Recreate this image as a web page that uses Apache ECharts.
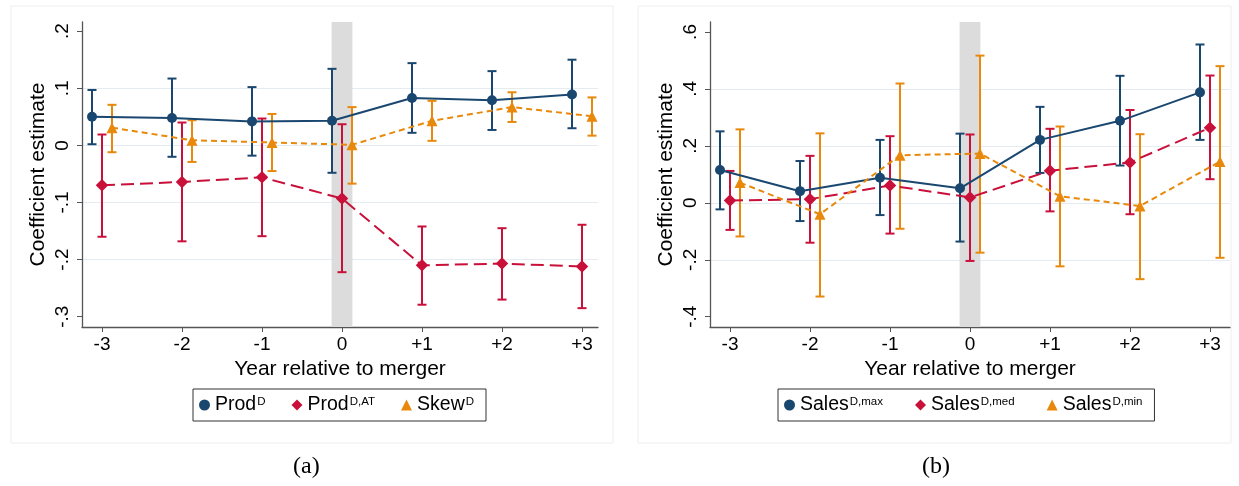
<!DOCTYPE html>
<html>
<head>
<meta charset="utf-8">
<script src="https://cdn.jsdelivr.net/npm/echarts@6/dist/echarts.min.js"></script>
<style>
  html, body { margin: 0; padding: 0; background: #ffffff; }
  #chart { width: 1239px; height: 486px; }
</style>
</head>
<body>
<div id="chart"></div>
<script>
// ---------------- data ----------------
const years = [-3, -2, -1, 0, 1, 2, 3];
const xTickLabels = ['-3', '-2', '-1', '0', '+1', '+2', '+3'];
const yTicksA = [-0.3, -0.2, -0.1, 0, 0.1, 0.2];
const yTicksB = [-0.4, -0.2, 0, 0.2, 0.4, 0.6];

// Panel (a)
const prodD    = [0.050, 0.048, 0.042, 0.043, 0.083, 0.079, 0.089];
const prodDLo  = [0.002, -0.020, -0.018, -0.048, 0.022, 0.027, 0.030];
const prodDHi  = [0.097, 0.117, 0.102, 0.134, 0.144, 0.130, 0.150];

const prodAT   = [-0.070, -0.064, -0.056, -0.093, -0.210, -0.207, -0.212];
const prodATLo = [-0.160, -0.168, -0.159, -0.222, -0.279, -0.270, -0.285];
const prodATHi = [0.019, 0.040, 0.047, 0.037, -0.142, -0.145, -0.139];

const skewD    = [0.031, 0.009, 0.005, 0.001, 0.043, 0.067, 0.051];
const skewDLo  = [-0.012, -0.029, -0.045, -0.067, 0.008, 0.041, 0.017];
const skewDHi  = [0.071, 0.044, 0.055, 0.067, 0.078, 0.093, 0.084];

// Panel (b)
const salesMax   = [0.115, 0.041, 0.088, 0.051, 0.221, 0.288, 0.388];
const salesMaxLo = [-0.023, -0.064, -0.043, -0.136, 0.105, 0.131, 0.221];
const salesMaxHi = [0.251, 0.147, 0.221, 0.243, 0.337, 0.446, 0.556];

const salesMed   = [0.008, 0.013, 0.061, 0.019, 0.113, 0.142, 0.264];
const salesMedLo = [-0.095, -0.140, -0.108, -0.204, -0.030, -0.040, 0.083];
const salesMedHi = [0.112, 0.165, 0.234, 0.240, 0.260, 0.326, 0.447];

const salesMin   = [0.071, -0.040, 0.167, 0.173, 0.023, -0.011, 0.145];
const salesMinLo = [-0.118, -0.329, -0.091, -0.175, -0.223, -0.268, -0.193];
const salesMinHi = [0.258, 0.244, 0.419, 0.517, 0.268, 0.241, 0.480];

// ---------------- styling ----------------
const BLUE = '#1a476f';
const RED = '#c8103a';
const ORANGE = '#e8890c';
const DODGE = 0.125;
const FONT = '"Liberation Sans", Arial, Helvetica, sans-serif';
const AXIS_COLOR = '#555555';
const GRID_COLOR = '#e4ecf2';

const legendRich = {
  m: { fontSize: 19.5, fontFamily: FONT, color: '#000', lineHeight: 22 },
  s: { fontSize: 11.5, fontFamily: FONT, color: '#000', verticalAlign: 'top', padding: [2, 0, 0, 1] }
};
const legendText = {
  ProdD: ['Prod', 'D'],
  ProdDAT: ['Prod', 'D,AT'],
  SkewD: ['Skew', 'D'],
  SalesMax: ['Sales', 'D,max'],
  SalesMed: ['Sales', 'D,med'],
  SalesMin: ['Sales', 'D,min']
};

function fmtY(v) {
  if (Math.abs(v) < 1e-9) return '0';
  const s = Math.abs(v).toFixed(1).replace(/^0/, '');
  return (v < 0 ? '-' : '') + s;
}
function fmtX(v) {
  const i = years.indexOf(Math.round(v));
  return i >= 0 ? xTickLabels[i] : '';
}

function xAxisCfg(idx, min, max) {
  return {
    type: 'value', gridIndex: idx, min: min, max: max,
    axisLine: { show: true, onZero: false, lineStyle: { color: AXIS_COLOR, width: 1.3 } },
    axisTick: { show: true, length: 5, customValues: years, lineStyle: { color: AXIS_COLOR, width: 1 } },
    axisLabel: { customValues: years, formatter: fmtX, fontSize: 19, fontFamily: FONT, color: '#000', margin: 8 },
    splitLine: { show: false },
    name: 'Year relative to merger', nameLocation: 'middle', nameGap: 30,
    nameTextStyle: { fontSize: 21, fontFamily: FONT, color: '#000' }
  };
}
function yAxisCfg(idx, min, max, ticks) {
  return {
    type: 'value', gridIndex: idx, min: min, max: max,
    axisLine: { show: true, onZero: false, lineStyle: { color: AXIS_COLOR, width: 1.3 } },
    axisTick: { show: true, length: 5, customValues: ticks, lineStyle: { color: AXIS_COLOR, width: 1 } },
    axisLabel: { customValues: ticks, formatter: fmtY, rotate: 90, fontSize: 19, fontFamily: FONT, color: '#000', margin: 10 },
    splitLine: { show: true, showMinLine: false, showMaxLine: false, lineStyle: { color: GRID_COLOR, width: 1 } },
    name: 'Coefficient estimate', nameLocation: 'middle', nameGap: 33, nameRotate: 90,
    nameTextStyle: { fontSize: 21, fontFamily: FONT, color: '#000' }
  };
}

function errorBars(idx, color, off, lo, hi) {
  return {
    type: 'custom', xAxisIndex: idx, yAxisIndex: idx, z: 2, silent: true,
    data: years.map((y, i) => [y + off, lo[i], hi[i]]),
    encode: { x: 0, y: [1, 2] },
    renderItem: function (params, api) {
      const x = api.value(0);
      const pLo = api.coord([x, api.value(1)]);
      const pHi = api.coord([x, api.value(2)]);
      const cap = 4.5;
      const st = { stroke: color, lineWidth: 2 };
      return {
        type: 'group',
        children: [
          { type: 'line', shape: { x1: pLo[0], y1: pLo[1], x2: pHi[0], y2: pHi[1] }, style: st },
          { type: 'line', shape: { x1: pLo[0] - cap, y1: pLo[1], x2: pLo[0] + cap, y2: pLo[1] }, style: st },
          { type: 'line', shape: { x1: pHi[0] - cap, y1: pHi[1], x2: pHi[0] + cap, y2: pHi[1] }, style: st }
        ]
      };
    }
  };
}
function pointLine(idx, name, color, off, vals, symbol, size, dash) {
  return {
    type: 'line', name: name, xAxisIndex: idx, yAxisIndex: idx, z: 3,
    data: years.map((y, i) => [y + off, vals[i]]),
    symbol: symbol, symbolSize: size, showSymbol: true,
    itemStyle: { color: color },
    lineStyle: { color: color, width: 2, type: dash },
    animation: false
  };
}
function band(idx) {
  return {
    type: 'line', xAxisIndex: idx, yAxisIndex: idx, z: 1, data: [], silent: true,
    markArea: {
      silent: true,
      itemStyle: { color: '#dcdcdc' },
      data: [[{ xAxis: -0.13 }, { xAxis: 0.13 }]]
    }
  };
}
function legendCfg(left, names, gap) {
  const icons = ['circle', 'diamond', 'triangle'];
  return {
    left: left, top: 389, orient: 'horizontal', selectedMode: false,
    data: names.map((n, i) => ({ name: n, icon: icons[i] })),
    itemWidth: 11, itemHeight: 11, itemGap: gap,
    padding: [6, 12, 6, 6],
    borderColor: '#333', borderWidth: 1, borderRadius: 0,
    backgroundColor: '#fff',
    textStyle: { fontSize: 19.5, fontFamily: FONT, color: '#000', rich: legendRich },
    formatter: function (name) {
      const t = legendText[name];
      return '{m|' + t[0] + '}{s|' + t[1] + '}';
    }
  };
}

const chart = echarts.init(document.getElementById('chart'), null, { renderer: 'canvas' });
chart.setOption({
  animation: false,
  backgroundColor: '#ffffff',
  grid: [
    { left: 82, top: 22, width: 516, height: 305 },
    { left: 710, top: 22, width: 520, height: 305 }
  ],
  xAxis: [xAxisCfg(0, -3.25, 3.2), xAxisCfg(1, -3.25, 3.25)],
  yAxis: [yAxisCfg(0, -0.318, 0.216, yTicksA), yAxisCfg(1, -0.436, 0.635, yTicksB)],
  legend: [
    legendCfg(193, ['ProdD', 'ProdDAT', 'SkewD'], 26),
    legendCfg(778, ['SalesMax', 'SalesMed', 'SalesMin'], 32)
  ],
  graphic: [
    { type: 'rect', z: -10, shape: { x: 11, y: 6, width: 602, height: 437 }, style: { fill: 'none', stroke: '#eeeeee', lineWidth: 1 } },
    { type: 'rect', z: -10, shape: { x: 638, y: 6, width: 593, height: 437 }, style: { fill: 'none', stroke: '#eeeeee', lineWidth: 1 } },
    { type: 'text', left: 293, top: 455, style: { text: '(a)', font: '24px "Liberation Serif", "DejaVu Serif", serif', fill: '#000' } },
    { type: 'text', left: 922, top: 455, style: { text: '(b)', font: '24px "Liberation Serif", "DejaVu Serif", serif', fill: '#000' } }
  ],
  series: [
    band(0),
    errorBars(0, BLUE, -DODGE, prodDLo, prodDHi),
    errorBars(0, RED, 0, prodATLo, prodATHi),
    errorBars(0, ORANGE, DODGE, skewDLo, skewDHi),
    pointLine(0, 'ProdD', BLUE, -DODGE, prodD, 'circle', 10, 'solid'),
    pointLine(0, 'ProdDAT', RED, 0, prodAT, 'diamond', 12.5, [13, 6]),
    pointLine(0, 'SkewD', ORANGE, DODGE, skewD, 'triangle', 11, [6, 4]),

    band(1),
    errorBars(1, BLUE, -DODGE, salesMaxLo, salesMaxHi),
    errorBars(1, RED, 0, salesMedLo, salesMedHi),
    errorBars(1, ORANGE, DODGE, salesMinLo, salesMinHi),
    pointLine(1, 'SalesMax', BLUE, -DODGE, salesMax, 'circle', 10, 'solid'),
    pointLine(1, 'SalesMed', RED, 0, salesMed, 'diamond', 12.5, [13, 6]),
    pointLine(1, 'SalesMin', ORANGE, DODGE, salesMin, 'triangle', 11, [6, 4])
  ]
});
</script>
</body>
</html>
